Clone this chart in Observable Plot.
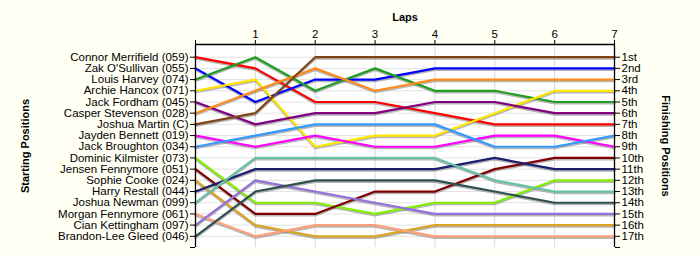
<!DOCTYPE html>
<html>
<head>
<meta charset="utf-8">
<script src="https://cdn.jsdelivr.net/npm/d3@7"></script>
<script src="https://cdn.jsdelivr.net/npm/@observablehq/plot@0.6"></script>
<style>
  html, body { margin: 0; padding: 0; background: #fffff4; }
  #chart svg { display: block; }
</style>
</head>
<body>
<div id="chart"></div>
<script>
// Laps 0..7
const laps = [0, 1, 2, 3, 4, 5, 6, 7];
// Drivers in starting order
const drivers = [
  "Connor Merrifield (059)",
  "Zak O'Sullivan (055)",
  "Louis Harvey (074)",
  "Archie Hancox (071)",
  "Jack Fordham (045)",
  "Casper Stevenson (028)",
  "Joshua Martin (C)",
  "Jayden Bennett (019)",
  "Jack Broughton (034)",
  "Dominic Kilmister (073)",
  "Jensen Fennymore (051)",
  "Sophie Cooke (024)",
  "Harry Restall (044)",
  "Joshua Newman (099)",
  "Morgan Fennymore (061)",
  "Cian Kettingham (097)",
  "Brandon-Lee Gleed (046)"
];
// Position of each driver at each lap (0..7)
const positions = [
  [1, 2, 5, 5, 6, 7, 7, 7],
  [2, 5, 3, 3, 2, 2, 2, 2],
  [3, 1, 4, 2, 4, 4, 5, 5],
  [4, 3, 9, 8, 8, 6, 4, 4],
  [5, 7, 6, 6, 5, 5, 6, 6],
  [6, 4, 2, 4, 3, 3, 3, 3],
  [7, 6, 1, 1, 1, 1, 1, 1],
  [8, 9, 8, 9, 9, 8, 8, 9],
  [9, 8, 7, 7, 7, 9, 9, 8],
  [10, 14, 14, 15, 14, 14, 12, 12],
  [11, 15, 15, 13, 13, 11, 10, 10],
  [12, 16, 17, 17, 16, 16, 16, 16],
  [13, 11, 11, 11, 11, 10, 11, 11],
  [14, 10, 10, 10, 10, 12, 13, 13],
  [15, 17, 16, 16, 17, 17, 17, 17],
  [16, 12, 13, 14, 15, 15, 15, 15],
  [17, 13, 12, 12, 12, 13, 14, 14]
];
const colors = [
  "#ff0000", "#0000ff", "#1e9e1e", "#ffe600", "#800080", "#ff8c1a",
  "#7f4517", "#ff00ff", "#3399ff", "#80f000", "#800000", "#daa520",
  "#1c1c70", "#66c2a5", "#ffa07a", "#9370db", "#2f4f4f"
];
const finishLabels = ["1st","2nd","3rd","4th","5th","6th","7th","8th","9th","10th",
  "11th","12th","13th","14th","15th","16th","17th"];

const data = [];
drivers.forEach((name, i) => {
  laps.forEach((lap, j) => data.push({ name, lap, pos: positions[i][j] }));
});

const posTicks = d3.range(1, 19);
const yTop = -0.135;

const chart = Plot.plot({
  width: 700,
  height: 255,
  marginLeft: 195,
  marginRight: 86,
  marginTop: 44,
  marginBottom: 8,
  style: { background: "#fffff4", color: "black", fontFamily: "'Liberation Sans', Arial, sans-serif", fontSize: "11.5px" },
  x: { domain: [0, 7] },
  y: { domain: [yTop, 18], reverse: true },
  color: { domain: drivers, range: colors },
  marks: [
    Plot.frame({ fill: "white", stroke: "none" }),
    Plot.gridX(laps, { stroke: "#d8d8d8", strokeOpacity: 1 }),
    Plot.gridY(d3.range(1, 18), { stroke: "#e2e2e2", strokeOpacity: 1 }),
    // drop shadow
    Plot.line(data, { x: "lap", y: "pos", z: "name", stroke: "#7a7a7a", strokeOpacity: 0.55, strokeWidth: 2.2, dy: 1.5 }),
    Plot.line(data, { x: "lap", y: "pos", z: "name", stroke: "name", strokeWidth: 2.2 }),
    Plot.ruleX([0, 7], { stroke: "black", strokeWidth: 1.3 }),
    Plot.ruleY([yTop], { stroke: "black", strokeWidth: 1.3 }),
    Plot.axisX(laps, { anchor: "top", tickSize: 5, tickPadding: 2, tickFormat: d => d === 0 ? "" : d, label: null, fontSize: 11.5 }),
    Plot.axisY(posTicks, { anchor: "left", tickSize: 5, tickPadding: 2, tickFormat: d => drivers[d - 1] ?? "", label: null }),
    Plot.axisY(posTicks, { anchor: "right", tickSize: 5, tickPadding: 2, tickFormat: d => finishLabels[d - 1] ?? "", label: null }),
    Plot.text(["Laps"], { frameAnchor: "top", dy: -31, fontWeight: "bold", fontSize: 11 }),
    Plot.text(["Starting Positions"], { frameAnchor: "left", textAnchor: "middle", rotate: -90, dx: -170, fontWeight: "bold", fontSize: 11 }),
    Plot.text(["Finishing Positions"], { frameAnchor: "right", textAnchor: "middle", rotate: 90, dx: 51, fontWeight: "bold", fontSize: 11 })
  ]
});
document.getElementById("chart").appendChild(chart);
</script>
</body>
</html>
